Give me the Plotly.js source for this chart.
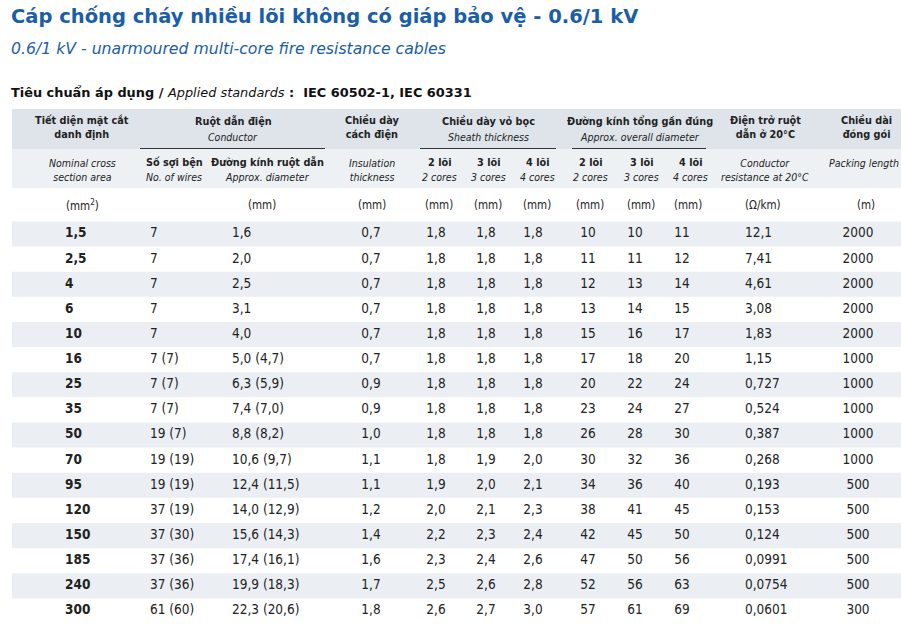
<!DOCTYPE html>
<html>
<head>
<meta charset="utf-8">
<script src="https://cdn.plot.ly/plotly-3.0.1.min.js"></script>
<style>html,body{margin:0;padding:0;background:#fff;}#chart{width:901px;height:637px;}</style>
</head>
<body>
<div id="chart"></div>
<script>
// ---------- data ----------
const sizes   = ['1,5','2,5','4','6','10','16','25','35','50','70','95','120','150','185','240','300'];
const wires   = ['7','7','7','7','7','7 (7)','7 (7)','7 (7)','19 (7)','19 (19)','19 (19)','37 (19)','37 (30)','37 (36)','37 (36)','61 (60)'];
const condDia = ['1,6','2,0','2,5','3,1','4,0','5,0 (4,7)','6,3 (5,9)','7,4 (7,0)','8,8 (8,2)','10,6 (9,7)','12,4 (11,5)','14,0 (12,9)','15,6 (14,3)','17,4 (16,1)','19,9 (18,3)','22,3 (20,6)'];
const insul   = ['0,7','0,7','0,7','0,7','0,7','0,7','0,9','0,9','1,0','1,1','1,1','1,2','1,4','1,6','1,7','1,8'];
const sheath2 = ['1,8','1,8','1,8','1,8','1,8','1,8','1,8','1,8','1,8','1,8','1,9','2,0','2,2','2,3','2,5','2,6'];
const sheath3 = ['1,8','1,8','1,8','1,8','1,8','1,8','1,8','1,8','1,8','1,9','2,0','2,1','2,3','2,4','2,6','2,7'];
const sheath4 = ['1,8','1,8','1,8','1,8','1,8','1,8','1,8','1,8','1,8','2,0','2,1','2,3','2,4','2,6','2,8','3,0'];
const od2     = ['10','11','12','13','15','17','20','23','26','30','34','38','42','47','52','57'];
const od3     = ['10','11','13','14','16','18','22','24','28','32','36','41','45','50','56','61'];
const od4     = ['11','12','14','15','17','20','24','27','30','36','40','45','50','56','63','69'];
const resist  = ['12,1','7,41','4,61','3,08','1,83','1,15','0,727','0,524','0,387','0,268','0,193','0,153','0,124','0,0991','0,0754','0,0601'];
const packLen = ['2000','2000','2000','2000','2000','1000','1000','1000','1000','1000','500','500','500','500','500','300'];

const titleText = 'Cáp chống cháy nhiều lõi không có giáp bảo vệ - 0.6/1 kV';
const subtitleText = '0.6/1 kV - unarmoured multi-core fire resistance cables';
const standardsText = '<b>Tiêu chuẩn áp dụng / </b><i>Applied standards</i><b> :  IEC 60502-1, IEC 60331</b>';

// ---------- layout constants ----------
const W = 901, H = 637;
const row0Px = 234, rowH = 25.13;
const FONT = 'DejaVu Sans, Verdana, sans-serif';
const CFONT = 'DejaVu Sans Condensed, DejaVu Sans, sans-serif';
const BLUE = '#1b5ea8';
const TXT = '#222';

const columns = [
  {vals: sizes,   x: 65,  pos: 'middle right',  bold: true},
  {vals: wires,   x: 150, pos: 'middle right'},
  {vals: condDia, x: 232, pos: 'middle right'},
  {vals: insul,   x: 371, pos: 'middle center'},
  {vals: sheath2, x: 436, pos: 'middle center'},
  {vals: sheath3, x: 486, pos: 'middle center'},
  {vals: sheath4, x: 533, pos: 'middle center'},
  {vals: od2,     x: 588, pos: 'middle center'},
  {vals: od3,     x: 635, pos: 'middle center'},
  {vals: od4,     x: 682, pos: 'middle center'},
  {vals: resist,  x: 745, pos: 'middle right'},
  {vals: packLen, x: 858, pos: 'middle center'}
];

const rowIdx = sizes.map((_, i) => i);
const traces = columns.map(c => ({
  type: 'scatter', mode: 'text',
  x: c.vals.map(() => c.x), y: rowIdx,
  text: c.bold ? c.vals.map(v => '<b>' + v + '</b>') : c.vals,
  textposition: c.pos,
  textfont: {family: CFONT, size: 13.5, color: TXT},
  hoverinfo: 'skip', showlegend: false, cliponaxis: false
}));

const py = px => 1 - px / H;

const shapes = [];
// header bands
shapes.push({type:'rect', xref:'x', yref:'paper', x0:12, x1:W, y0:py(149), y1:py(109), fillcolor:'#dee4ea', line:{width:0}, layer:'below'});
shapes.push({type:'rect', xref:'x', yref:'paper', x0:12, x1:W, y0:py(188), y1:py(149), fillcolor:'#edf1f4', line:{width:0}, layer:'below'});
// striped rows
rowIdx.forEach(i => {
  if (i % 2 === 0) shapes.push({type:'rect', xref:'x', yref:'y', x0:12, x1:W, y0:i-0.5, y1:i+0.5, fillcolor:'#ebeff3', line:{width:0}, layer:'below'});
});
// group underlines
[[140,325],[420,556],[572,706]].forEach(s => {
  shapes.push({type:'line', xref:'x', yref:'paper', x0:s[0], x1:s[1], y0:py(148.5), y1:py(148.5), line:{color:'#333', width:1.2}});
});

const annotations = [];
function ann(text, x, ypx, size, opts, fam) {
  annotations.push(Object.assign({
    text: text, xref:'x', yref:'paper', x: x, y: py(ypx),
    xanchor:'center', yanchor:'middle', showarrow:false,
    font:{family: fam || CFONT, size: size, color: TXT}
  }, opts || {}));
}
// titles
ann('<b>' + titleText + '</b>', 9, 17, 19.5, {xanchor:'left', font:{family:FONT, size:19.5, color:BLUE}});
ann('<i>' + subtitleText + '</i>', 9, 49, 15.7, {xanchor:'left', font:{family:FONT, size:15.7, color:BLUE}});
ann(standardsText, 9, 92, 12.9, {xanchor:'left', font:{family:FONT, size:12.9, color:'#111'}});

// header row 1 (bold Vietnamese + italic English)
const HB = 10.8, HI = 10.5;
ann('<b>Tiết diện mặt cắt<br>danh định</b>', 82, 128, HB);
ann('<b>Ruột dẫn điện</b>', 233, 121, HB);
ann('<i>Conductor</i>', 233, 137, HI);
ann('<b>Chiều dày<br>cách điện</b>', 372, 128, HB);
ann('<b>Chiều dày vỏ bọc</b>', 488, 121, HB);
ann('<i>Sheath thickness</i>', 488, 137, HI);
ann('<b>Đường kính tổng gần đúng</b>', 640, 121, HB);
ann('<i>Approx. overall diameter</i>', 640, 137, HI);
ann('<b>Điện trở ruột<br>dẫn ở 20°C</b>', 765, 128, HB);
ann('<b>Chiều dài<br>đóng gói</b>', 866, 128, HB);

// header row 2
ann('<i>Nominal cross<br>section area</i>', 82, 170, HI);
ann('<b>Số sợi bện</b>', 174, 162, HB);
ann('<i>No. of wires</i>', 174, 177, HI);
ann('<b>Đường kính ruột dẫn</b>', 267, 162, HB);
ann('<i>Approx. diameter</i>', 267, 177, HI);
ann('<i>Insulation<br>thickness</i>', 372, 170, HI);
const coreX = [439, 488, 537, 590, 641, 690];
const coreVi = ['2 lõi','3 lõi','4 lõi','2 lõi','3 lõi','4 lõi'];
const coreEn = ['2 cores','3 cores','4 cores','2 cores','3 cores','4 cores'];
coreX.forEach((x, k) => {
  ann('<b>' + coreVi[k] + '</b>', x, 162, HB);
  ann('<i>' + coreEn[k] + '</i>', x, 177, HI);
});
ann('<i>Conductor<br>resistance at 20°C</i>', 765, 170, HI);
ann('<i>Packing length</i>', 864, 163, HI);

// units row
const unitX = [82, 262, 372, 439, 488, 537, 590, 641, 688, 763, 866];
const unitT = ['(mm<sup>2</sup>)','(mm)','(mm)','(mm)','(mm)','(mm)','(mm)','(mm)','(mm)','(Ω/km)','(m)'];
unitX.forEach((x, k) => ann(unitT[k], x, 205, 11.5));

const layout = {
  width: W, height: H,
  margin: {l:0, r:0, t:0, b:0},
  paper_bgcolor: '#fff', plot_bgcolor: '#fff',
  xaxis: {range: [0, W], visible: false, fixedrange: true},
  yaxis: {range: [(H - row0Px) / rowH, -row0Px / rowH], visible: false, fixedrange: true},
  shapes: shapes, annotations: annotations,
  showlegend: false, hovermode: false
};

Plotly.newPlot('chart', traces, layout, {displayModeBar: false, staticPlot: true});
</script>
</body>
</html>
